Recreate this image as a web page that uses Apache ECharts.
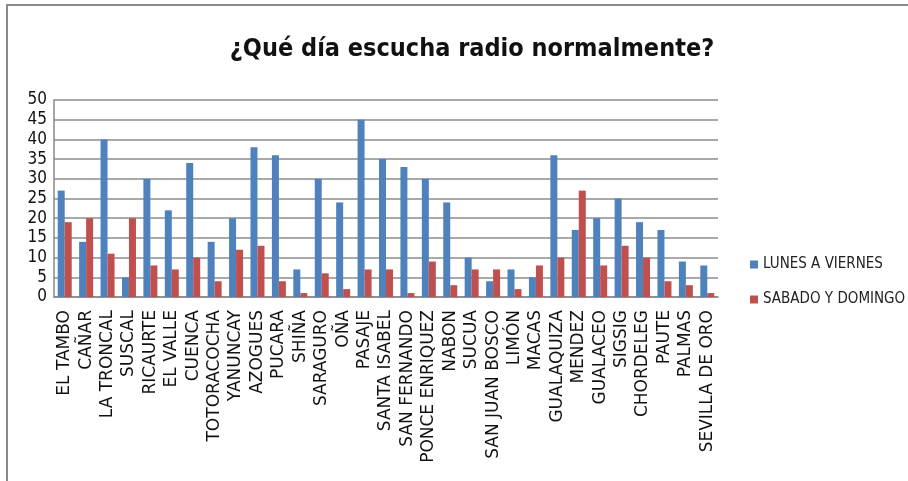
<!DOCTYPE html>
<html>
<head>
<meta charset="utf-8">
<script src="https://cdn.jsdelivr.net/npm/echarts@6/dist/echarts.min.js"></script>
<style>
  html, body { margin: 0; padding: 0; background: #fff; }
  #frame {
    position: absolute; left: 6px; top: 4px; width: 902px; height: 477px;
    border-left: 2px solid #8a8a8a; border-top: 2px solid #8a8a8a;
  }
  #main { position: absolute; left: 0; top: 0; width: 908px; height: 481px; }
</style>
</head>
<body>
<div id="frame"></div>
<div id="main"></div>
<script>
// datos
var categorias = ["EL TAMBO", "CAÑAR", "LA TRONCAL", "SUSCAL", "RICAURTE", "EL VALLE", "CUENCA",
  "TOTORACOCHA", "YANUNCAY", "AZOGUES", "PUCARA", "SHIÑA", "SARAGURO", "OÑA", "PASAJE",
  "SANTA ISABEL", "SAN FERNANDO", "PONCE ENRIQUEZ", "NABON", "SUCUA", "SAN JUAN BOSCO",
  "LIMÓN", "MACAS", "GUALAQUIZA", "MENDEZ", "GUALACEO", "SIGSIG", "CHORDELEG", "PAUTE",
  "PALMAS", "SEVILLA DE ORO"];
var lunesAViernes = [27, 14, 40, 5, 30, 22, 34, 14, 20, 38, 36, 7, 30, 24, 45, 35, 33, 30, 24, 10, 4,
  7, 5, 36, 17, 20, 25, 19, 17, 9, 8];
var sabadoYDomingo = [19, 20, 11, 20, 8, 7, 10, 4, 12, 13, 4, 1, 6, 2, 7, 7, 1, 9, 3, 7, 7,
  2, 8, 10, 27, 8, 13, 10, 4, 3, 1];
var titulo = "¿Qué día escucha radio normalmente?";

var fuenteAngosta = "DejaVu Sans Condensed, DejaVu Sans";

var myChart = echarts.init(document.getElementById("main"));
var option = {
  animation: false,
  title: {
    text: titulo,
    left: 467,
    textAlign: "center",
    top: 32,
    textStyle: {
      fontFamily: fuenteAngosta,
      fontWeight: "bold",
      fontSize: 25,
      color: "#111"
    }
  },
  legend: {
    orient: "vertical",
    left: 745,
    top: 252,
    itemWidth: 8,
    itemHeight: 8,
    itemGap: 20,
    icon: "rect",
    textStyle: {
      fontFamily: fuenteAngosta,
      fontSize: 15,
      color: "#222"
    }
  },
  grid: {
    left: 54,
    right: 190,
    top: 100,
    bottom: 184
  },
  xAxis: {
    type: "category",
    data: categorias,
    axisLine: { lineStyle: { color: "#888", width: 1.5 } },
    axisTick: { show: false },
    axisLabel: {
      rotate: 90,
      interval: 0,
      margin: 13,
      fontFamily: "DejaVu Sans",
      fontSize: 17,
      color: "#111"
    }
  },
  yAxis: {
    type: "value",
    min: 0,
    max: 50,
    interval: 5,
    axisLine: { show: true, lineStyle: { color: "#888", width: 1.5 } },
    axisTick: { show: false },
    splitLine: { lineStyle: { color: "#8c8c8c", width: 1.5 } },
    axisLabel: {
      margin: 7,
      fontFamily: fuenteAngosta,
      fontSize: 17,
      color: "#111"
    }
  },
  series: [
    {
      name: "LUNES A VIERNES",
      type: "bar",
      data: lunesAViernes,
      barWidth: 7,
      barGap: "0%",
      itemStyle: { color: "#4f81bd" }
    },
    {
      name: "SABADO Y DOMINGO",
      type: "bar",
      data: sabadoYDomingo,
      barWidth: 7,
      itemStyle: { color: "#c0504d" }
    }
  ]
};
myChart.setOption(option);
</script>
</body>
</html>
